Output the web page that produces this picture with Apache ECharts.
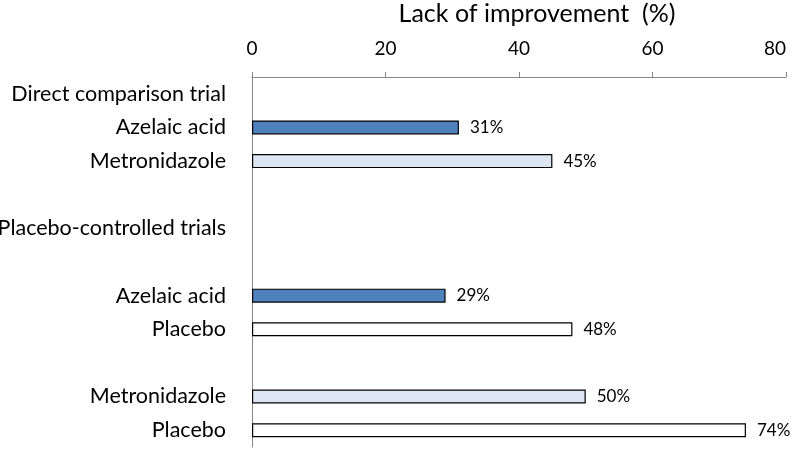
<!DOCTYPE html>
<html>
<head>
<meta charset="utf-8">
<script src="https://cdn.jsdelivr.net/npm/echarts@6/dist/echarts.min.js"></script>
<style>
html,body{margin:0;padding:0;background:#fff;}
#chart{width:794px;height:449px;}
</style>
</head>
<body>
<div id="chart"></div>
<script>
// Row labels (top to bottom)
var categories = ["Direct comparison trial", "Azelaic acid", "Metronidazole", "", "Placebo-controlled trials", "", "Azelaic acid", "Placebo", "", "Metronidazole", "Placebo"];
// Lack of improvement (%) per row (null = header / spacer rows)
var values = [null, 31, 45, null, null, null, 29, 48, null, 50, 74];
// Treatment type per row, used for fill colour
var groups = [null, "azelaic", "metronidazole", null, null, null, "azelaic", "placebo", null, "metronidazole", "placebo"];
var xTicks = [0, 20, 40, 60, 80];
var axisTitle = "Lack of improvement  (%)";

var fills = { azelaic: "#4F81BD", metronidazole: "#DCE6F2", placebo: "#FFFFFF" };
var FONT = "Lato";

var data = values.map(function (v, i) {
  if (v === null) return { value: null };
  return { value: v, itemStyle: { color: fills[groups[i]] } };
});

var chart = echarts.init(document.getElementById('chart'), null, { renderer: 'canvas' });
chart.setOption({
  animation: false,
  backgroundColor: '#fff',
  grid: { left: 252, right: 8, top: 77, bottom: 2, containLabel: false, outerBoundsMode: 'none' },
  xAxis: {
    type: 'value',
    position: 'top',
    min: xTicks[0],
    max: xTicks[xTicks.length - 1],
    interval: 20,
    name: axisTitle,
    nameLocation: 'middle',
    nameGap: 51,
    nameTextStyle: { fontFamily: FONT, fontSize: 25, color: '#000', padding: [0, 0, 0, 36] },
    axisLine: { show: true, lineStyle: { color: '#868686', width: 1 } },
    axisTick: { show: true, length: 5, lineStyle: { color: '#868686' } },
    axisLabel: { fontFamily: FONT, fontSize: 19, color: '#000', margin: 19, alignMaxLabel: 'right' },
    splitLine: { show: false }
  },
  yAxis: {
    type: 'category',
    inverse: true,
    data: categories,
    axisLine: { show: true, lineStyle: { color: '#868686', width: 1 } },
    axisTick: { show: false },
    axisLabel: { fontFamily: FONT, fontSize: 21.5, color: '#000', margin: 26, interval: 0 },
    splitLine: { show: false }
  },
  series: [{
    type: 'bar',
    data: data,
    barWidth: 14,
    itemStyle: { borderColor: '#000', borderWidth: 1.2 },
    label: {
      show: true,
      position: 'right',
      distance: 11,
      fontFamily: FONT,
      fontSize: 17,
      color: '#000',
      formatter: function (p) { return p.value == null ? '' : p.value + '%'; }
    }
  }]
});
</script>
</body>
</html>
